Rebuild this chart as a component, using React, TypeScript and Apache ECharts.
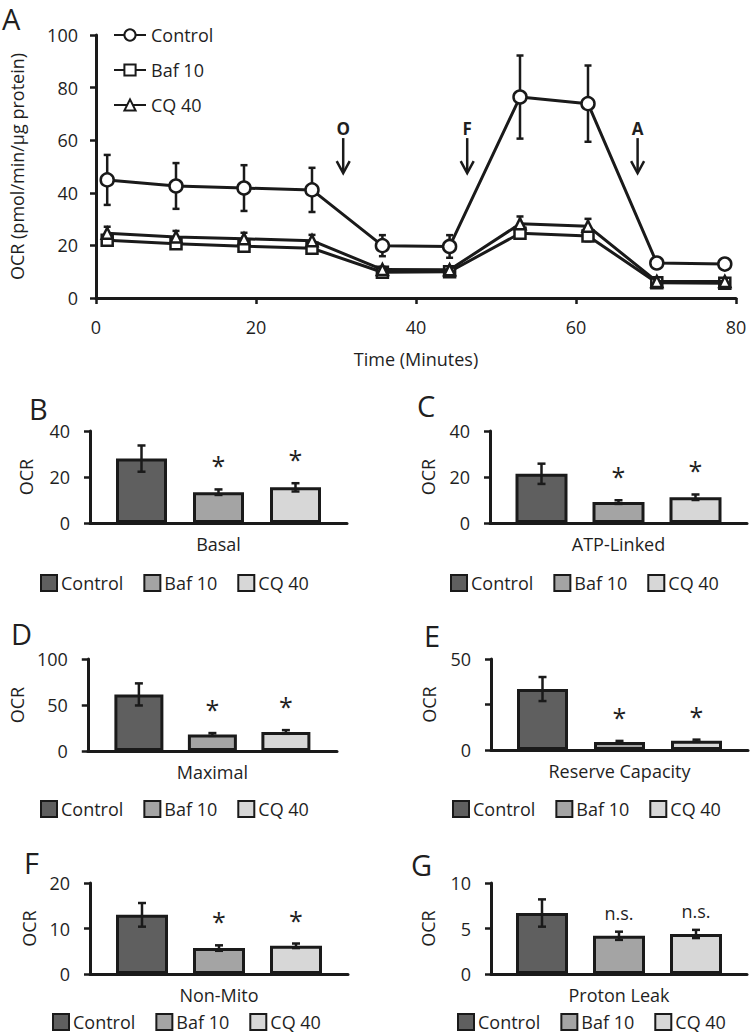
import React, { useEffect, useRef } from 'react';
import * as echarts from 'echarts';

const FONT = '"Open Sans", "Noto Sans", sans-serif';
const INK = '#1a1a1a';
const TXT = '#1f1f1f';

// ---------- data ----------
const groups = ['Control', 'Baf 10', 'CQ 40'];
const groupFill = ['#5f5f5f', '#a4a4a4', '#d7d7d7'];

// Panel A: OCR time course
const timeMin = [1.4, 10.0, 18.5, 27.0, 35.8, 44.2, 53.0, 61.5, 70.1, 78.6];
const controlOCR = [44.9, 42.6, 41.8, 41.1, 19.9, 19.6, 76.4, 73.9, 13.3, 12.9];
const controlErr = [9.5, 8.7, 8.7, 8.4, 4.0, 4.3, 15.8, 14.5, 2.0, 2.0];
const baf10OCR = [22.0, 20.6, 19.7, 18.9, 9.8, 10.0, 24.6, 23.6, 5.8, 5.6];
const baf10Err = [1.8, 1.7, 1.7, 1.6, 1.2, 1.2, 2.0, 2.0, 1.0, 1.0];
const cq40OCR = [24.6, 23.2, 22.5, 21.8, 10.8, 10.7, 28.2, 27.3, 6.3, 6.3];
const cq40Err = [2.5, 2.3, 2.3, 2.2, 1.0, 1.0, 2.8, 2.8, 0.8, 0.8];

const injectionLabels = ['O', 'F', 'A'];
const injectionTime = [30.9, 46.4, 67.7];

// Panels B-G: OCR parameters (mean, SEM, significance)
const basalMean = [28.0, 13.4, 15.5];
const basalErr = [5.7, 1.2, 1.8];
const basalSig = ['', '*', '*'];

const atpMean = [21.4, 9.1, 11.2];
const atpErr = [4.4, 0.8, 1.2];
const atpSig = ['', '*', '*'];

const maximalMean = [61.5, 18.0, 20.7];
const maximalErr = [12.0, 1.5, 2.0];
const maximalSig = ['', '*', '*'];

const reserveMean = [33.5, 4.4, 5.1];
const reserveErr = [6.6, 0.6, 0.6];
const reserveSig = ['', '*', '*'];

const nonMitoMean = [13.0, 5.7, 6.2];
const nonMitoErr = [2.6, 0.6, 0.5];
const nonMitoSig = ['', '*', '*'];

const leakMean = [6.7, 4.2, 4.4];
const leakErr = [1.5, 0.45, 0.45];
const leakSig = ['', 'n.s.', 'n.s.'];

// ---------- helpers ----------
const text = (s: string, x: number, y: number, size: number, weight = 'normal', align = 'left') => ({
  type: 'text',
  x,
  y,
  style: {
    text: s,
    fontFamily: FONT,
    fontSize: size,
    fontWeight: weight,
    lineHeight: size,
    fill: TXT,
    align,
    verticalAlign: 'middle',
  },
});

function errorBarItem(lo: number[], hi: number[], w: number, lw: number) {
  return [
    { type: 'line', shape: { x1: lo[0], y1: lo[1], x2: hi[0], y2: hi[1] }, style: { stroke: INK, lineWidth: lw } },
    { type: 'line', shape: { x1: lo[0] - w, y1: lo[1], x2: lo[0] + w, y2: lo[1] }, style: { stroke: INK, lineWidth: lw } },
    { type: 'line', shape: { x1: hi[0] - w, y1: hi[1], x2: hi[0] + w, y2: hi[1] }, style: { stroke: INK, lineWidth: lw } },
  ];
}

function lineOption() {
  const means = [controlOCR, baf10OCR, cq40OCR];
  const errs = [controlErr, baf10Err, cq40Err];
  const symbols = ['circle', 'rect', 'triangle'];
  const sizes = [13, 11, 11];
  const series: any[] = [];
  means.forEach((m, g) => {
    series.push({
      type: 'custom',
      name: groups[g] + ' error',
      silent: true,
      z: 1,
      data: timeMin.map((t, i) => [t, m[i] - errs[g][i], m[i] + errs[g][i]]),
      renderItem: (params: any, api: any) => {
        const lo = api.coord([api.value(0), api.value(1)]);
        const hi = api.coord([api.value(0), api.value(2)]);
        return { type: 'group', children: errorBarItem(lo, hi, 3.5, 2.5) };
      },
    });
  });
  means.forEach((m, g) => {
    series.push({
      type: 'line',
      name: groups[g],
      data: timeMin.map((t, i) => [t, m[i]]),
      symbol: symbols[g],
      symbolSize: sizes[g],
      showAllSymbol: true,
      z: 3 + g,
      lineStyle: { color: INK, width: 3 },
      itemStyle: { color: '#ffffff', borderColor: INK, borderWidth: 2.5 },
    });
  });
  series.push({
    type: 'custom',
    name: 'injections',
    silent: true,
    z: 6,
    data: injectionTime.map((t) => [t, 60.8, 47.5, 64.6]),
    renderItem: (params: any, api: any) => {
      const top = api.coord([api.value(0), api.value(1)]);
      const bot = api.coord([api.value(0), api.value(2)]);
      const lab = api.coord([api.value(0), api.value(3)]);
      return {
        type: 'group',
        children: [
          {
            type: 'text',
            x: lab[0],
            y: lab[1],
            style: {
              text: injectionLabels[params.dataIndex],
              fontFamily: FONT,
              fontSize: 17,
              fontWeight: 'bold',
              fill: TXT,
              align: 'center',
              verticalAlign: 'middle',
            },
          },
          { type: 'line', shape: { x1: top[0], y1: top[1], x2: bot[0], y2: bot[1] - 2 }, style: { stroke: INK, lineWidth: 2.5 } },
          {
            type: 'polyline',
            shape: { points: [[bot[0] - 6.5, bot[1] - 12], [bot[0], bot[1]], [bot[0] + 6.5, bot[1] - 12]] },
            style: { stroke: INK, lineWidth: 2.5, fill: 'none' },
          },
        ],
      };
    },
  });

  return {
    animation: false,
    backgroundColor: 'transparent',
    textStyle: { fontFamily: FONT },
    grid: { left: 88, top: 35, width: 648, height: 263 },
    legend: {
      data: groups,
      orient: 'vertical',
      left: 113,
      top: 26,
      padding: 0,
      itemWidth: 32,
      itemHeight: 14,
      itemGap: 17,
      textStyle: { fontFamily: FONT, fontSize: 18, color: TXT },
    },
    xAxis: {
      type: 'value',
      min: 0,
      max: 80,
      interval: 20,
      name: 'Time (Minutes)',
      nameLocation: 'middle',
      nameGap: 52,
      nameTextStyle: { fontFamily: FONT, fontSize: 18, color: TXT },
      axisLine: { lineStyle: { color: INK, width: 3 } },
      axisTick: { show: true, inside: false, length: 6, lineStyle: { color: INK, width: 2.5 } },
      axisLabel: { fontFamily: FONT, fontSize: 18, color: TXT, margin: 20 },
      splitLine: { show: false },
    },
    yAxis: {
      type: 'value',
      min: 0,
      max: 100,
      interval: 20,
      name: 'OCR (pmol/min/µg protein)',
      nameLocation: 'middle',
      nameGap: 70,
      nameTextStyle: { fontFamily: FONT, fontSize: 18, color: TXT },
      axisLine: { show: true, lineStyle: { color: INK, width: 3 } },
      axisTick: { show: true, inside: false, length: 6, lineStyle: { color: INK, width: 2.5 } },
      axisLabel: { fontFamily: FONT, fontSize: 18, color: TXT, margin: 18 },
      splitLine: { show: false },
    },
    graphic: [text('A', 2, 18, 29)],
    series,
  };
}

type BarPanel = {
  letter: string;
  category: string;
  mean: number[];
  err: number[];
  sig: string[];
  max: number;
  interval: number;
  hide?: number[];
  div: { x: number; y: number; w: number; h: number };
  grid: { left: number; top: number; width: number; height: number };
  letterPos: [number, number];
  legendLeft: number;
  legendCy: number;
  barW: number;
  spacing: number;
  nameGap: number;
};

function barOption(p: BarPanel) {
  const ox = p.div.x;
  const oy = p.div.y;
  const series: any[] = groups.map((g, i) => ({
    type: 'bar',
    name: g,
    data: [p.mean[i]],
    barWidth: p.barW,
    barGap: ((p.spacing - p.barW) / p.barW) * 100 + '%',
    z: 2,
    itemStyle: { color: groupFill[i], borderColor: INK, borderWidth: 3 },
  }));
  series.push({
    type: 'custom',
    name: 'error',
    silent: true,
    z: 4,
    data: groups.map((g, i) => [0, p.mean[i] - p.err[i], p.mean[i] + p.err[i], i]),
    renderItem: (params: any, api: any) => {
      const idx = api.value(3);
      const dx = (idx - 1) * p.spacing;
      const lo = api.coord([0, api.value(1)]);
      const hi = api.coord([0, api.value(2)]);
      lo[0] += dx;
      hi[0] += dx;
      const children: any[] = errorBarItem(lo, hi, 4, 2.5);
      const s = p.sig[idx];
      if (s) {
        const star = s === '*';
        children.push({
          type: 'text',
          x: hi[0],
          y: hi[1] - (star ? 24 : 19),
          style: {
            text: s,
            fontFamily: FONT,
            fontSize: star ? 25 : 18,
            fill: TXT,
            align: 'center',
            verticalAlign: 'middle',
          },
        });
      }
      return { type: 'group', children };
    },
  });
  return {
    animation: false,
    backgroundColor: 'transparent',
    textStyle: { fontFamily: FONT },
    grid: { left: p.grid.left - ox, top: p.grid.top - oy, width: p.grid.width, height: p.grid.height },
    legend: {
      data: groups,
      left: p.legendLeft - ox,
      top: p.legendCy - oy - 8,
      padding: 0,
      icon: 'rect',
      itemWidth: 16,
      itemHeight: 16,
      itemGap: 20,
      itemStyle: { borderColor: INK, borderWidth: 2 },
      textStyle: { fontFamily: FONT, fontSize: 18, lineHeight: 16, color: TXT, padding: [0, 0, 0, -1] },
    },
    xAxis: {
      type: 'category',
      data: [p.category],
      axisLine: { lineStyle: { color: INK, width: 3 } },
      axisTick: { show: false },
      axisLabel: { fontFamily: FONT, fontSize: 18, color: TXT, margin: 12 },
    },
    yAxis: {
      type: 'value',
      min: 0,
      max: p.max,
      interval: p.interval,
      name: 'OCR',
      nameLocation: 'middle',
      nameGap: p.nameGap,
      nameTextStyle: { fontFamily: FONT, fontSize: 18, color: TXT },
      axisLine: { show: true, lineStyle: { color: INK, width: 3 } },
      axisTick: { show: true, inside: false, length: 6, lineStyle: { color: INK, width: 2.5 } },
      axisLabel: {
        fontFamily: FONT,
        fontSize: 18,
        color: TXT,
        margin: 20,
        formatter: (v: number) => (p.hide && p.hide.indexOf(v) >= 0 ? '' : String(v)),
      },
      splitLine: { show: false },
    },
    graphic: [text(p.letter, p.letterPos[0] - ox, p.letterPos[1] - oy, 29)],
    series,
  };
}

const panels: BarPanel[] = [
  {
    letter: 'B', category: 'Basal', mean: basalMean, err: basalErr, sig: basalSig, max: 40, interval: 20,
    div: { x: 0, y: 380, w: 375, h: 225 }, grid: { left: 90, top: 431, width: 257, height: 92 },
    letterPos: [29, 408], legendLeft: 40, legendCy: 582, barW: 51, spacing: 77, nameGap: 55,
  },
  {
    letter: 'C', category: 'ATP-Linked', mean: atpMean, err: atpErr, sig: atpSig, max: 40, interval: 20,
    div: { x: 375, y: 380, w: 375, h: 225 }, grid: { left: 490, top: 431, width: 257, height: 92 },
    letterPos: [417, 405], legendLeft: 450, legendCy: 582, barW: 52, spacing: 77, nameGap: 53,
  },
  {
    letter: 'D', category: 'Maximal', mean: maximalMean, err: maximalErr, sig: maximalSig, max: 100, interval: 50,
    div: { x: 0, y: 605, w: 375, h: 225 }, grid: { left: 87, top: 659, width: 250, height: 92 },
    letterPos: [11, 633], legendLeft: 40, legendCy: 808, barW: 49, spacing: 73.5, nameGap: 60,
  },
  {
    letter: 'E', category: 'Reserve Capacity', mean: reserveMean, err: reserveErr, sig: reserveSig, max: 50, interval: 25,
    hide: [25],
    div: { x: 375, y: 605, w: 375, h: 225 }, grid: { left: 491, top: 659, width: 257, height: 91 },
    letterPos: [424, 635], legendLeft: 452, legendCy: 808, barW: 51, spacing: 77, nameGap: 53,
  },
  {
    letter: 'F', category: 'Non-Mito', mean: nonMitoMean, err: nonMitoErr, sig: nonMitoSig, max: 20, interval: 10,
    div: { x: 0, y: 830, w: 375, h: 205 }, grid: { left: 90, top: 883, width: 258, height: 91 },
    letterPos: [24, 862], legendLeft: 52, legendCy: 1021, barW: 52, spacing: 77, nameGap: 52,
  },
  {
    letter: 'G', category: 'Proton Leak', mean: leakMean, err: leakErr, sig: leakSig, max: 10, interval: 5,
    div: { x: 375, y: 830, w: 375, h: 205 }, grid: { left: 491, top: 883, width: 256, height: 91 },
    letterPos: [411, 864], legendLeft: 457, legendCy: 1021, barW: 52, spacing: 77, nameGap: 54,
  },
];

function Chart({ box, option }: { box: { x: number; y: number; w: number; h: number }; option: any }) {
  const ref = useRef<HTMLDivElement>(null);
  useEffect(() => {
    if (!ref.current) return;
    const chart = echarts.init(ref.current, null, { renderer: 'svg' });
    chart.setOption(option);
    return () => chart.dispose();
  }, []);
  return (
    <div
      ref={ref}
      style={{ position: 'absolute', left: box.x, top: box.y, width: box.w, height: box.h }}
    />
  );
}

export default function App() {
  return (
    <div style={{ position: 'absolute', left: 0, top: 0, width: 750, height: 1035, background: '#ffffff', overflow: 'hidden' }}>
      <Chart box={{ x: 0, y: 0, w: 750, h: 380 }} option={lineOption()} />
      {panels.map((p) => (
        <Chart key={p.letter} box={p.div} option={barOption(p)} />
      ))}
    </div>
  );
}
